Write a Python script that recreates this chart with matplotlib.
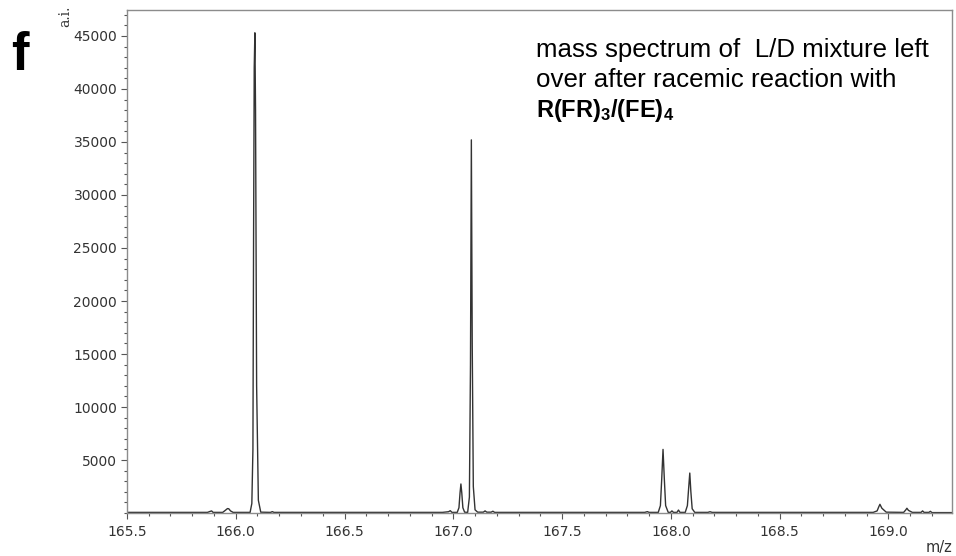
import matplotlib
matplotlib.use("Agg")
import matplotlib.pyplot as plt
from matplotlib.ticker import MultipleLocator

# spectrum trace (m/z, intensity in a.i.)
mz = [165.50, 165.870, 165.882, 165.889, 165.896, 165.940, 165.952, 165.962, 165.968,
      165.976, 165.988, 166.066, 166.074, 166.079, 166.082, 166.085, 166.088, 166.091,
      166.096, 166.104, 166.115, 166.160, 166.168, 166.176, 166.950, 166.978, 166.986,
      166.994, 167.018, 167.026, 167.031, 167.035, 167.039, 167.044, 167.052, 167.066,
      167.074, 167.079, 167.083, 167.087, 167.092, 167.100, 167.112, 167.138, 167.146,
      167.154, 167.174, 167.182, 167.190, 167.880, 167.892, 167.900, 167.942, 167.952,
      167.958, 167.964, 167.970, 167.976, 167.988, 167.998, 168.005, 168.012, 168.028,
      168.035, 168.042, 168.066, 168.076, 168.082, 168.087, 168.092, 168.098, 168.110,
      168.170, 168.180, 168.190, 168.930, 168.948, 168.956, 168.961, 168.970, 168.990,
      169.070, 169.080, 169.085, 169.092, 169.110, 169.150, 169.157, 169.164, 169.186,
      169.193, 169.200, 169.300]
intensity = [60, 60, 150, 200, 60, 60, 250, 420, 400, 200, 60, 60, 900, 6000, 26000,
             42000, 45300, 38000, 12000, 1200, 80, 60, 130, 60, 60, 120, 220, 60,
             60, 500, 1900, 2740, 1900, 500, 80, 60, 1500, 14000, 35200, 16000, 2500,
             300, 80, 80, 200, 80, 80, 170, 60, 60, 130, 60, 60, 700, 3200, 6000, 3200,
             700, 60, 60, 200, 60, 60, 280, 60, 60, 700, 2400, 3770, 2000, 400, 60, 60,
             120, 60, 60, 200, 600, 820, 450, 80, 60, 300, 450, 250, 60, 60, 200, 60,
             60, 160, 40, 40]

x_ticks = [165.5, 166.0, 166.5, 167.0, 167.5, 168.0, 168.5, 169.0]
y_ticks = [5000, 10000, 15000, 20000, 25000, 30000, 35000, 40000, 45000]

plt.rcParams['mathtext.fontset'] = 'custom'
plt.rcParams['mathtext.rm'] = 'Liberation Sans'
plt.rcParams['mathtext.bf'] = 'Liberation Sans:bold'

fig = plt.figure(figsize=(9.56, 5.56), dpi=100)
ax = fig.add_axes([0.1328, 0.0773, 0.8625, 0.9047])

ax.plot(mz, intensity, color='#333333', linewidth=1.0)

ax.set_xlim(165.5, 169.29)
ax.set_ylim(0, 47450)
ax.set_xticks(x_ticks)
ax.set_xticklabels([f"{v:.1f}" for v in x_ticks])
ax.set_yticks(y_ticks)
ax.set_yticklabels([str(v) for v in y_ticks])
ax.xaxis.set_minor_locator(MultipleLocator(0.1))
ax.yaxis.set_minor_locator(MultipleLocator(1000))

for s in ax.spines.values():
    s.set_color('#8c8c8c')
    s.set_linewidth(1.0)
ax.tick_params(which='major', direction='out', length=4.5, width=0.8,
               color='#555555', labelsize=10, labelcolor='#333333', pad=2.5)
ax.tick_params(which='minor', direction='out', length=2.5, width=0.8, color='#555555')
ax.tick_params(axis='x', which='major', pad=4)

# axis captions as the instrument software prints them
fig.text(0.068, 0.99, "a.i.", rotation=90, ha='center', va='top',
         fontsize=10, color='#333333', family='DejaVu Serif')
fig.text(0.996, 0.015, "m/z", ha='right', va='center', fontsize=10.5, color='#333333')

# panel letter
fig.text(0.012, 0.875, "f", fontsize=38, fontweight='bold', family='Liberation Sans',
         va='baseline', ha='left')

# annotation
fig.text(0.5607, 0.898, "mass spectrum of  L/D mixture left", fontsize=18.6,
         family='Liberation Sans', va='baseline', ha='left')
fig.text(0.5607, 0.844, "over after racemic reaction with", fontsize=18.6,
         family='Liberation Sans', va='baseline', ha='left')
fig.text(0.5607, 0.790, r"$\mathbf{R(FR)_3/(FE)_4}$", fontsize=17,
         va='baseline', ha='left')

fig.savefig("out.png", dpi=100)
